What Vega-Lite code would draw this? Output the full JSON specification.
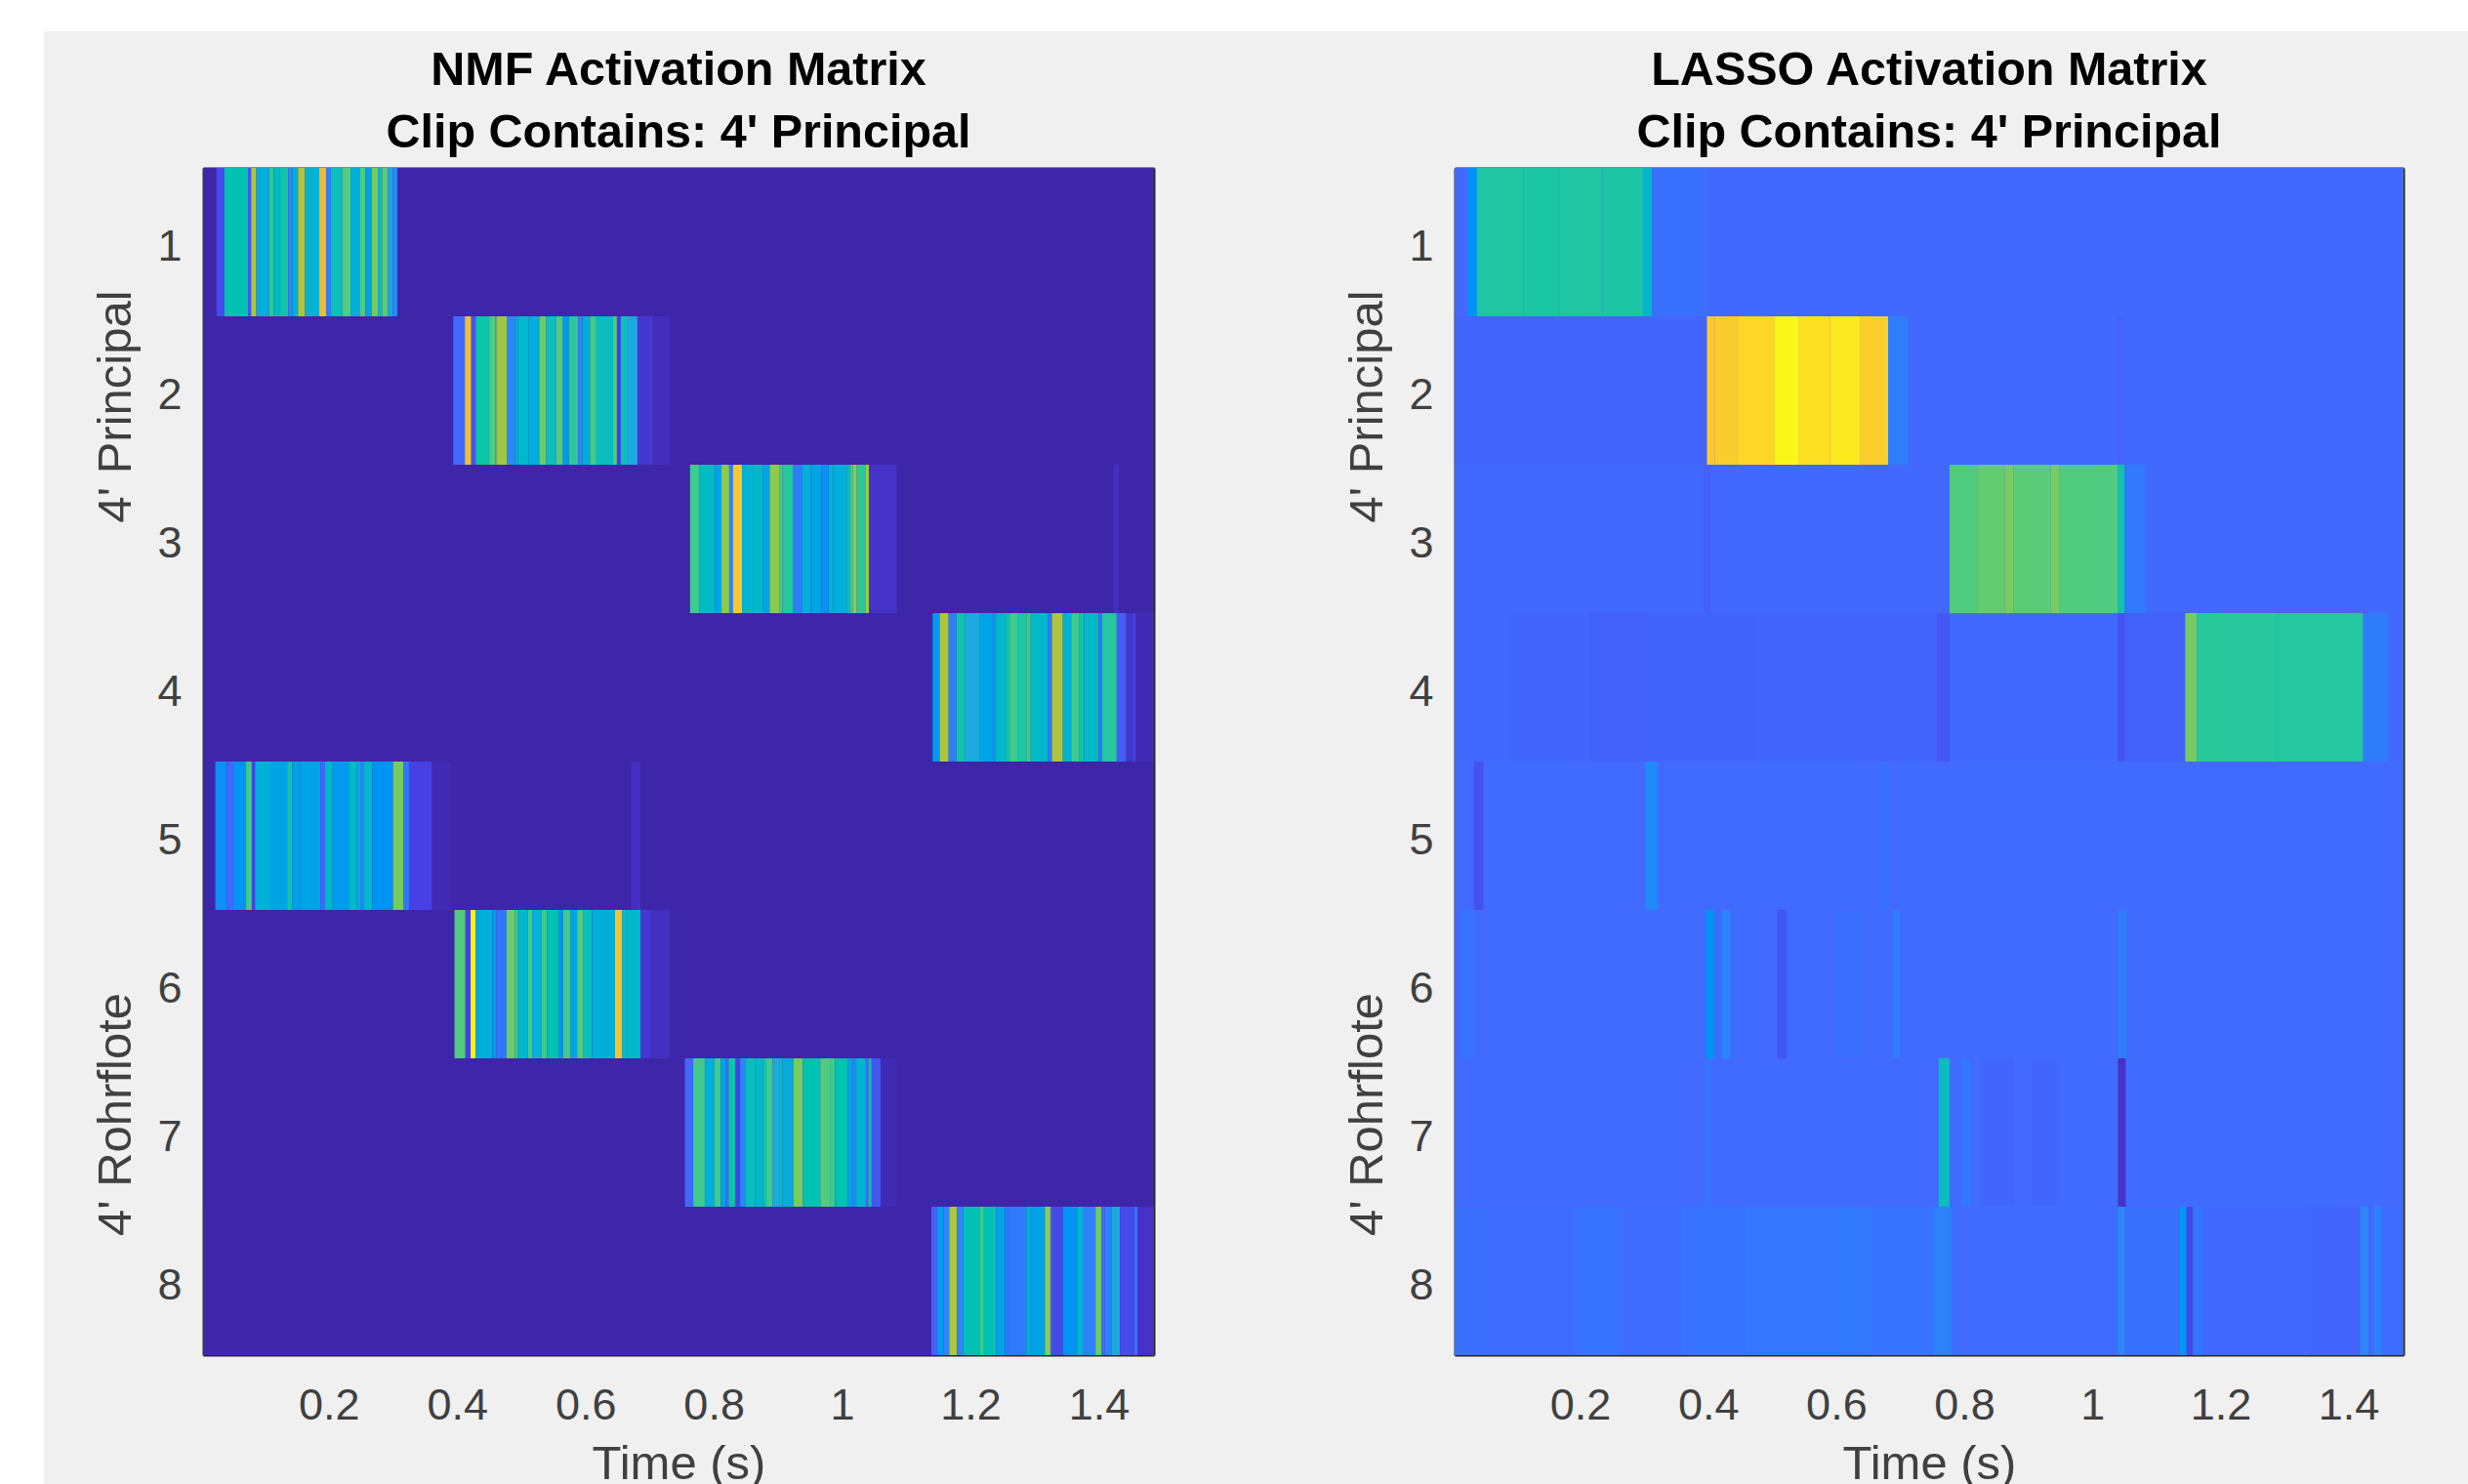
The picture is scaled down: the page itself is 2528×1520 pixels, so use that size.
{"$schema":"https://vega.github.io/schema/vega-lite/v6.json","background":"white","padding":{"left":45,"top":32,"right":0,"bottom":0},"autosize":{"type":"pad"},
"config":{"font":"Liberation Sans","concat":{"spacing":0},"axis":{"labelFont":"Liberation Sans","titleFont":"Liberation Sans","labelFontSize":45,"titleFontSize":49,"titleFontWeight":"normal","labelColor":"#404040","titleColor":"#404040","grid":false,"tickSize":-12,"tickWidth":2,"tickColor":"#262626","domainColor":"#262626","domainWidth":2,"zindex":1},"title":{"font":"Liberation Sans","fontSize":48.5,"fontWeight":"bold","color":"#000000","lineHeight":64,"anchor":"middle"}},
"datasets":{
"nmf":[
{"row":1,"t0":0,"t1":1.5,"v":0},{"row":2,"t0":0,"t1":1.5,"v":0},{"row":3,"t0":0,"t1":1.5,"v":0},{"row":4,"t0":0,"t1":1.5,"v":0},{"row":5,"t0":0,"t1":1.5,"v":0},{"row":6,"t0":0,"t1":1.5,"v":0},{"row":7,"t0":0,"t1":1.5,"v":0},{"row":8,"t0":0,"t1":1.5,"v":0.005},
{"row":1,"t0":0.025,"t1":0.037,"v":0.12},{"row":1,"t0":0.037,"t1":0.074,"v":0.53},{"row":1,"t0":0.074,"t1":0.079,"v":0.15},{"row":1,"t0":0.079,"t1":0.087,"v":0.72},{"row":1,"t0":0.087,"t1":0.107,"v":0.42},{"row":1,"t0":0.107,"t1":0.114,"v":0.58},{"row":1,"t0":0.114,"t1":0.124,"v":0.48},{"row":1,"t0":0.124,"t1":0.137,"v":0.55},{"row":1,"t0":0.137,"t1":0.143,"v":0.3},{"row":1,"t0":0.143,"t1":0.152,"v":0.42},{"row":1,"t0":0.152,"t1":0.163,"v":0.72},{"row":1,"t0":0.163,"t1":0.185,"v":0.45},{"row":1,"t0":0.185,"t1":0.196,"v":0.8},{"row":1,"t0":0.196,"t1":0.203,"v":0.28},{"row":1,"t0":0.203,"t1":0.221,"v":0.5},{"row":1,"t0":0.221,"t1":0.234,"v":0.62},{"row":1,"t0":0.234,"t1":0.249,"v":0.43},{"row":1,"t0":0.249,"t1":0.257,"v":0.62},{"row":1,"t0":0.257,"t1":0.267,"v":0.38},{"row":1,"t0":0.267,"t1":0.277,"v":0.66},{"row":1,"t0":0.277,"t1":0.283,"v":0.5},{"row":1,"t0":0.283,"t1":0.292,"v":0.63},{"row":1,"t0":0.292,"t1":0.3,"v":0.4},{"row":1,"t0":0.3,"t1":0.307,"v":0.3},
{"row":2,"t0":0.394,"t1":0.412,"v":0.2},{"row":2,"t0":0.412,"t1":0.422,"v":0.82},{"row":2,"t0":0.422,"t1":0.429,"v":0.15},{"row":2,"t0":0.429,"t1":0.45,"v":0.55},{"row":2,"t0":0.45,"t1":0.459,"v":0.62},{"row":2,"t0":0.459,"t1":0.461,"v":0.4},{"row":2,"t0":0.461,"t1":0.478,"v":0.7},{"row":2,"t0":0.478,"t1":0.49,"v":0.3},{"row":2,"t0":0.49,"t1":0.495,"v":0.42},{"row":2,"t0":0.495,"t1":0.511,"v":0.47},{"row":2,"t0":0.511,"t1":0.528,"v":0.42},{"row":2,"t0":0.528,"t1":0.539,"v":0.65},{"row":2,"t0":0.539,"t1":0.554,"v":0.5},{"row":2,"t0":0.554,"t1":0.565,"v":0.62},{"row":2,"t0":0.565,"t1":0.574,"v":0.35},{"row":2,"t0":0.574,"t1":0.589,"v":0.58},{"row":2,"t0":0.589,"t1":0.595,"v":0.3},{"row":2,"t0":0.595,"t1":0.607,"v":0.42},{"row":2,"t0":0.607,"t1":0.617,"v":0.6},{"row":2,"t0":0.617,"t1":0.643,"v":0.5},{"row":2,"t0":0.643,"t1":0.649,"v":0.62},{"row":2,"t0":0.649,"t1":0.655,"v":0.1},{"row":2,"t0":0.655,"t1":0.666,"v":0.5},{"row":2,"t0":0.666,"t1":0.681,"v":0.4},{"row":2,"t0":0.681,"t1":0.701,"v":0.06},{"row":2,"t0":0.701,"t1":0.705,"v":0.08},{"row":2,"t0":0.705,"t1":0.732,"v":0.03},
{"row":3,"t0":0.763,"t1":0.778,"v":0.6},{"row":3,"t0":0.778,"t1":0.802,"v":0.48},{"row":3,"t0":0.802,"t1":0.812,"v":0.38},{"row":3,"t0":0.812,"t1":0.824,"v":0.68},{"row":3,"t0":0.824,"t1":0.83,"v":0.3},{"row":3,"t0":0.83,"t1":0.844,"v":0.87},{"row":3,"t0":0.844,"t1":0.862,"v":0.45},{"row":3,"t0":0.862,"t1":0.877,"v":0.47},{"row":3,"t0":0.877,"t1":0.887,"v":0.38},{"row":3,"t0":0.887,"t1":0.902,"v":0.68},{"row":3,"t0":0.902,"t1":0.907,"v":0.62},{"row":3,"t0":0.907,"t1":0.924,"v":0.57},{"row":3,"t0":0.924,"t1":0.938,"v":0.27},{"row":3,"t0":0.938,"t1":0.951,"v":0.43},{"row":3,"t0":0.951,"t1":0.968,"v":0.38},{"row":3,"t0":0.968,"t1":0.979,"v":0.32},{"row":3,"t0":0.979,"t1":0.986,"v":0.45},{"row":3,"t0":0.986,"t1":1.007,"v":0.42},{"row":3,"t0":1.007,"t1":1.012,"v":0.5},{"row":3,"t0":1.012,"t1":1.017,"v":0.6},{"row":3,"t0":1.017,"t1":1.023,"v":0.68},{"row":3,"t0":1.023,"t1":1.037,"v":0.58},{"row":3,"t0":1.037,"t1":1.042,"v":0.7},{"row":3,"t0":1.042,"t1":1.085,"v":0.05},{"row":3,"t0":1.423,"t1":1.431,"v":0.04},
{"row":4,"t0":1.141,"t1":1.152,"v":0.35},{"row":4,"t0":1.152,"t1":1.166,"v":0.72},{"row":4,"t0":1.166,"t1":1.178,"v":0.27},{"row":4,"t0":1.178,"t1":1.191,"v":0.55},{"row":4,"t0":1.191,"t1":1.215,"v":0.4},{"row":4,"t0":1.215,"t1":1.235,"v":0.38},{"row":4,"t0":1.235,"t1":1.239,"v":0.3},{"row":4,"t0":1.239,"t1":1.255,"v":0.47},{"row":4,"t0":1.255,"t1":1.261,"v":0.55},{"row":4,"t0":1.261,"t1":1.273,"v":0.6},{"row":4,"t0":1.273,"t1":1.287,"v":0.56},{"row":4,"t0":1.287,"t1":1.294,"v":0.6},{"row":4,"t0":1.294,"t1":1.321,"v":0.47},{"row":4,"t0":1.321,"t1":1.327,"v":0.25},{"row":4,"t0":1.327,"t1":1.344,"v":0.72},{"row":4,"t0":1.344,"t1":1.357,"v":0.45},{"row":4,"t0":1.357,"t1":1.37,"v":0.6},{"row":4,"t0":1.37,"t1":1.377,"v":0.55},{"row":4,"t0":1.377,"t1":1.4,"v":0.48},{"row":4,"t0":1.4,"t1":1.405,"v":0.25},{"row":4,"t0":1.405,"t1":1.428,"v":0.57},{"row":4,"t0":1.428,"t1":1.443,"v":0.17},{"row":4,"t0":1.443,"t1":1.454,"v":0.06},{"row":4,"t0":1.454,"t1":1.457,"v":0.12},{"row":4,"t0":1.457,"t1":1.487,"v":0.02},
{"row":5,"t0":0.023,"t1":0.041,"v":0.32},{"row":5,"t0":0.041,"t1":0.051,"v":0.2},{"row":5,"t0":0.051,"t1":0.071,"v":0.33},{"row":5,"t0":0.071,"t1":0.08,"v":0.6},{"row":5,"t0":0.08,"t1":0.085,"v":0.1},{"row":5,"t0":0.085,"t1":0.109,"v":0.43},{"row":5,"t0":0.109,"t1":0.135,"v":0.38},{"row":5,"t0":0.135,"t1":0.143,"v":0.55},{"row":5,"t0":0.143,"t1":0.155,"v":0.37},{"row":5,"t0":0.155,"t1":0.187,"v":0.38},{"row":5,"t0":0.187,"t1":0.194,"v":0.2},{"row":5,"t0":0.194,"t1":0.206,"v":0.47},{"row":5,"t0":0.206,"t1":0.231,"v":0.35},{"row":5,"t0":0.231,"t1":0.244,"v":0.48},{"row":5,"t0":0.244,"t1":0.249,"v":0.42},{"row":5,"t0":0.249,"t1":0.255,"v":0.27},{"row":5,"t0":0.255,"t1":0.268,"v":0.47},{"row":5,"t0":0.268,"t1":0.3,"v":0.33},{"row":5,"t0":0.3,"t1":0.316,"v":0.66},{"row":5,"t0":0.316,"t1":0.325,"v":0.25},{"row":5,"t0":0.325,"t1":0.361,"v":0.1},{"row":5,"t0":0.361,"t1":0.391,"v":0.02},{"row":5,"t0":0.671,"t1":0.686,"v":0.04},
{"row":6,"t0":0.396,"t1":0.413,"v":0.62},{"row":6,"t0":0.413,"t1":0.421,"v":0.1},{"row":6,"t0":0.421,"t1":0.429,"v":0.98},{"row":6,"t0":0.429,"t1":0.455,"v":0.43},{"row":6,"t0":0.455,"t1":0.461,"v":0.35},{"row":6,"t0":0.461,"t1":0.477,"v":0.25},{"row":6,"t0":0.477,"t1":0.49,"v":0.65},{"row":6,"t0":0.49,"t1":0.495,"v":0.6},{"row":6,"t0":0.495,"t1":0.51,"v":0.46},{"row":6,"t0":0.51,"t1":0.517,"v":0.6},{"row":6,"t0":0.517,"t1":0.531,"v":0.44},{"row":6,"t0":0.531,"t1":0.54,"v":0.6},{"row":6,"t0":0.54,"t1":0.559,"v":0.53},{"row":6,"t0":0.559,"t1":0.565,"v":0.33},{"row":6,"t0":0.565,"t1":0.577,"v":0.6},{"row":6,"t0":0.577,"t1":0.587,"v":0.38},{"row":6,"t0":0.587,"t1":0.597,"v":0.62},{"row":6,"t0":0.597,"t1":0.61,"v":0.5},{"row":6,"t0":0.61,"t1":0.646,"v":0.42},{"row":6,"t0":0.646,"t1":0.657,"v":0.85},{"row":6,"t0":0.657,"t1":0.663,"v":0.5},{"row":6,"t0":0.663,"t1":0.686,"v":0.47},{"row":6,"t0":0.686,"t1":0.701,"v":0.07},{"row":6,"t0":0.701,"t1":0.732,"v":0.04},
{"row":7,"t0":0.755,"t1":0.768,"v":0.2},{"row":7,"t0":0.768,"t1":0.786,"v":0.6},{"row":7,"t0":0.786,"t1":0.801,"v":0.42},{"row":7,"t0":0.801,"t1":0.811,"v":0.6},{"row":7,"t0":0.811,"t1":0.819,"v":0.38},{"row":7,"t0":0.819,"t1":0.823,"v":0.2},{"row":7,"t0":0.823,"t1":0.834,"v":0.55},{"row":7,"t0":0.834,"t1":0.841,"v":0.1},{"row":7,"t0":0.841,"t1":0.849,"v":0.3},{"row":7,"t0":0.849,"t1":0.864,"v":0.5},{"row":7,"t0":0.864,"t1":0.877,"v":0.47},{"row":7,"t0":0.877,"t1":0.882,"v":0.55},{"row":7,"t0":0.882,"t1":0.892,"v":0.6},{"row":7,"t0":0.892,"t1":0.902,"v":0.4},{"row":7,"t0":0.902,"t1":0.907,"v":0.5},{"row":7,"t0":0.907,"t1":0.924,"v":0.41},{"row":7,"t0":0.924,"t1":0.939,"v":0.66},{"row":7,"t0":0.939,"t1":0.966,"v":0.53},{"row":7,"t0":0.966,"t1":0.981,"v":0.62},{"row":7,"t0":0.981,"t1":0.989,"v":0.6},{"row":7,"t0":0.989,"t1":1.009,"v":0.53},{"row":7,"t0":1.009,"t1":1.017,"v":0.38},{"row":7,"t0":1.017,"t1":1.022,"v":0.28},{"row":7,"t0":1.022,"t1":1.037,"v":0.45},{"row":7,"t0":1.037,"t1":1.041,"v":0.2},{"row":7,"t0":1.041,"t1":1.046,"v":0.55},{"row":7,"t0":1.046,"t1":1.06,"v":0.15},{"row":7,"t0":1.06,"t1":1.085,"v":0.02},
{"row":8,"t0":1.139,"t1":1.148,"v":0.18},{"row":8,"t0":1.148,"t1":1.158,"v":0.35},{"row":8,"t0":1.158,"t1":1.167,"v":0.3},{"row":8,"t0":1.167,"t1":1.179,"v":0.72},{"row":8,"t0":1.179,"t1":1.189,"v":0.3},{"row":8,"t0":1.189,"t1":1.215,"v":0.52},{"row":8,"t0":1.215,"t1":1.221,"v":0.6},{"row":8,"t0":1.221,"t1":1.235,"v":0.52},{"row":8,"t0":1.235,"t1":1.24,"v":0.55},{"row":8,"t0":1.24,"t1":1.254,"v":0.38},{"row":8,"t0":1.254,"t1":1.258,"v":0.25},{"row":8,"t0":1.258,"t1":1.287,"v":0.25},{"row":8,"t0":1.287,"t1":1.294,"v":0.42},{"row":8,"t0":1.294,"t1":1.316,"v":0.38},{"row":8,"t0":1.316,"t1":1.325,"v":0.68},{"row":8,"t0":1.325,"t1":1.33,"v":0.15},{"row":8,"t0":1.33,"t1":1.344,"v":0.12},{"row":8,"t0":1.344,"t1":1.367,"v":0.33},{"row":8,"t0":1.367,"t1":1.375,"v":0.45},{"row":8,"t0":1.375,"t1":1.395,"v":0.28},{"row":8,"t0":1.395,"t1":1.404,"v":0.65},{"row":8,"t0":1.404,"t1":1.409,"v":0.2},{"row":8,"t0":1.409,"t1":1.42,"v":0.28},{"row":8,"t0":1.42,"t1":1.433,"v":0.4},{"row":8,"t0":1.433,"t1":1.455,"v":0.12},{"row":8,"t0":1.455,"t1":1.461,"v":0.2},{"row":8,"t0":1.461,"t1":1.487,"v":0.05}
],
"lasso":[
{"row":1,"t0":0,"t1":1.5,"v":0.2},{"row":2,"t0":0,"t1":1.5,"v":0.2},{"row":3,"t0":0,"t1":1.5,"v":0.2},{"row":4,"t0":0,"t1":1.5,"v":0.2},{"row":5,"t0":0,"t1":1.5,"v":0.205},{"row":6,"t0":0,"t1":1.5,"v":0.205},{"row":7,"t0":0,"t1":1.5,"v":0.205},{"row":8,"t0":0,"t1":1.5,"v":0.21},
{"row":1,"t0":0.025,"t1":0.039,"v":0.33},{"row":1,"t0":0.039,"t1":0.111,"v":0.565},{"row":1,"t0":0.111,"t1":0.168,"v":0.56},{"row":1,"t0":0.168,"t1":0.235,"v":0.565},{"row":1,"t0":0.235,"t1":0.298,"v":0.56},{"row":1,"t0":0.298,"t1":0.312,"v":0.47},{"row":1,"t0":0.312,"t1":0.398,"v":0.22},
{"row":2,"t0":0.004,"t1":0.398,"v":0.19},{"row":2,"t0":0.398,"t1":0.41,"v":0.88},{"row":2,"t0":0.41,"t1":0.446,"v":0.89},{"row":2,"t0":0.446,"t1":0.504,"v":0.92},{"row":2,"t0":0.504,"t1":0.542,"v":0.99},{"row":2,"t0":0.542,"t1":0.59,"v":0.94},{"row":2,"t0":0.59,"t1":0.638,"v":0.96},{"row":2,"t0":0.638,"t1":0.681,"v":0.9},{"row":2,"t0":0.681,"t1":0.712,"v":0.27},{"row":2,"t0":1.04,"t1":1.05,"v":0.19},
{"row":3,"t0":0.393,"t1":0.404,"v":0.18},{"row":3,"t0":0.777,"t1":0.82,"v":0.62},{"row":3,"t0":0.82,"t1":0.863,"v":0.64},{"row":3,"t0":0.863,"t1":0.877,"v":0.66},{"row":3,"t0":0.877,"t1":0.935,"v":0.63},{"row":3,"t0":0.935,"t1":0.949,"v":0.66},{"row":3,"t0":0.949,"t1":1.04,"v":0.62},{"row":3,"t0":1.04,"t1":1.05,"v":0.55},{"row":3,"t0":1.05,"t1":1.083,"v":0.25},
{"row":4,"t0":0.092,"t1":0.216,"v":0.19},{"row":4,"t0":0.216,"t1":0.312,"v":0.18},{"row":4,"t0":0.312,"t1":0.475,"v":0.185},{"row":4,"t0":0.475,"t1":0.757,"v":0.19},{"row":4,"t0":0.757,"t1":0.777,"v":0.15},{"row":4,"t0":1.04,"t1":1.05,"v":0.14},{"row":4,"t0":1.05,"t1":1.145,"v":0.18},{"row":4,"t0":1.145,"t1":1.163,"v":0.66},{"row":4,"t0":1.163,"t1":1.289,"v":0.575},{"row":4,"t0":1.289,"t1":1.423,"v":0.57},{"row":4,"t0":1.423,"t1":1.462,"v":0.26},
{"row":5,"t0":0.034,"t1":0.049,"v":0.14},{"row":5,"t0":0.302,"t1":0.321,"v":0.31},{"row":5,"t0":0.666,"t1":0.684,"v":0.22},
{"row":6,"t0":0.015,"t1":0.034,"v":0.23},{"row":6,"t0":0.396,"t1":0.41,"v":0.33},{"row":6,"t0":0.421,"t1":0.435,"v":0.29},{"row":6,"t0":0.508,"t1":0.523,"v":0.15},{"row":6,"t0":0.599,"t1":0.647,"v":0.215},{"row":6,"t0":0.688,"t1":0.7,"v":0.26},{"row":6,"t0":1.04,"t1":1.054,"v":0.26},
{"row":7,"t0":0.393,"t1":0.406,"v":0.23},{"row":7,"t0":0.76,"t1":0.777,"v":0.5},{"row":7,"t0":0.777,"t1":0.796,"v":0.21},{"row":7,"t0":0.796,"t1":0.81,"v":0.25},{"row":7,"t0":0.829,"t1":0.877,"v":0.19},{"row":7,"t0":0.906,"t1":0.944,"v":0.19},{"row":7,"t0":1.04,"t1":1.052,"v":0.05},
{"row":8,"t0":0.004,"t1":0.053,"v":0.225},{"row":8,"t0":0.188,"t1":0.264,"v":0.23},{"row":8,"t0":0.36,"t1":0.456,"v":0.23},{"row":8,"t0":0.456,"t1":0.609,"v":0.24},{"row":8,"t0":0.609,"t1":0.657,"v":0.25},{"row":8,"t0":0.657,"t1":0.753,"v":0.23},{"row":8,"t0":0.753,"t1":0.781,"v":0.28},{"row":8,"t0":0.781,"t1":1.04,"v":0.205},{"row":8,"t0":1.04,"t1":1.05,"v":0.3},{"row":8,"t0":1.05,"t1":1.136,"v":0.22},{"row":8,"t0":1.136,"t1":1.147,"v":0.34},{"row":8,"t0":1.147,"t1":1.157,"v":0.11},{"row":8,"t0":1.157,"t1":1.172,"v":0.25},{"row":8,"t0":1.172,"t1":1.337,"v":0.2},{"row":8,"t0":1.337,"t1":1.418,"v":0.19},{"row":8,"t0":1.418,"t1":1.431,"v":0.3},{"row":8,"t0":1.431,"t1":1.44,"v":0.2},{"row":8,"t0":1.44,"t1":1.452,"v":0.28},{"row":8,"t0":1.452,"t1":1.487,"v":0.21}
]},
"bounds":"flush","spacing":0,"hconcat":[
{"width":163,"height":1216,"view":{"stroke":null},"data":{"values":[{"a":0,"b":15.2331,"c":-0.1086,"d":1.1151}]},"mark":{"type":"rect","color":"#f0f0f0","clip":false},"encoding":{"x":{"field":"a","type":"quantitative","scale":{"domain":[0,1],"nice":false,"zero":false},"axis":null},"x2":{"field":"b"},"y":{"field":"c","type":"quantitative","scale":{"domain":[0,1],"nice":false,"zero":false},"axis":null},"y2":{"field":"d"}}},
{"width":974,"height":1216,"view":{"stroke":null},"title":{"text":["NMF Activation Matrix","Clip Contains: 4' Principal"],"offset":10},
"data":{"name":"nmf"},"resolve":{"axis":{"x":"independent","y":"independent"}},
"layer":[
{"mark":{"type":"rect","clip":true,"strokeWidth":0},"encoding":{"x":{"field":"t0","type":"quantitative","scale":{"domain":[0.004,1.486],"nice":false,"zero":false},"axis":{"orient":"bottom","values":[0.2,0.4,0.6,0.8,1,1.2,1.4],"format":"~g","labelPadding":41,"title":"Time (s)","titlePadding":13}},"x2":{"field":"t1"},"y":{"field":"row","type":"ordinal","scale":{"paddingInner":0,"paddingOuter":0},"axis":{"orient":"left","labelAngle":0,"labelPadding":34,"labelOffset":5,"title":"4' Principal","titleX":-65,"titleY":244,"titleAlign":"center"}},"color":{"field":"v","type":"quantitative","legend":null,"scale":{"domain":[0,1],"range":["#3e26a8","#4741e5","#4269fe","#2d87f7","#1ca9df","#0bbdbd","#3fca8e","#9dc942","#efba36","#fcce2d","#f9fb15"]}}}},
{"mark":{"type":"rect","opacity":0},"encoding":{"x":{"field":"t0","type":"quantitative","axis":{"orient":"top","values":[0.2,0.4,0.6,0.8,1,1.2,1.4],"labels":false,"title":null}},"x2":{"field":"t1"},"y":{"field":"row","type":"ordinal","axis":{"orient":"right","labels":false,"title":null}}}},
{"mark":{"type":"rect","opacity":0},"encoding":{"x":{"field":"t0","type":"quantitative","axis":null},"x2":{"field":"t1"},"y":{"field":"row","type":"ordinal","axis":{"orient":"left","labels":false,"ticks":false,"domain":false,"title":"4' Rohrflote","titleX":-65,"titleY":969,"titleAlign":"center"}}}}
]},
{"width":308,"height":1216,"view":{"stroke":null},"data":{"values":[]},"mark":"rect","encoding":{}},
{"width":972,"height":1216,"view":{"stroke":null},"title":{"text":["LASSO Activation Matrix","Clip Contains: 4' Principal"],"offset":10},
"data":{"name":"lasso"},"resolve":{"axis":{"x":"independent","y":"independent"}},
"layer":[
{"mark":{"type":"rect","clip":true,"strokeWidth":0},"encoding":{"x":{"field":"t0","type":"quantitative","scale":{"domain":[0.004,1.486],"nice":false,"zero":false},"axis":{"orient":"bottom","values":[0.2,0.4,0.6,0.8,1,1.2,1.4],"format":"~g","labelPadding":41,"title":"Time (s)","titlePadding":13}},"x2":{"field":"t1"},"y":{"field":"row","type":"ordinal","scale":{"paddingInner":0,"paddingOuter":0},"axis":{"orient":"left","labelAngle":0,"labelPadding":34,"labelOffset":5,"title":"4' Principal","titleX":-65,"titleY":244,"titleAlign":"center"}},"color":{"field":"v","type":"quantitative","legend":null,"scale":{"domain":[0,1],"range":["#3e26a8","#4741e5","#4269fe","#2d87f7","#1ca9df","#0bbdbd","#3fca8e","#9dc942","#efba36","#fcce2d","#f9fb15"]}}}},
{"mark":{"type":"rect","opacity":0},"encoding":{"x":{"field":"t0","type":"quantitative","axis":{"orient":"top","values":[0.2,0.4,0.6,0.8,1,1.2,1.4],"labels":false,"title":null}},"x2":{"field":"t1"},"y":{"field":"row","type":"ordinal","axis":{"orient":"right","labels":false,"title":null}}}},
{"mark":{"type":"rect","opacity":0},"encoding":{"x":{"field":"t0","type":"quantitative","axis":null},"x2":{"field":"t1"},"y":{"field":"row","type":"ordinal","axis":{"orient":"left","labels":false,"ticks":false,"domain":false,"title":"4' Rohrflote","titleX":-65,"titleY":969,"titleAlign":"center"}}}}
]}
]}
